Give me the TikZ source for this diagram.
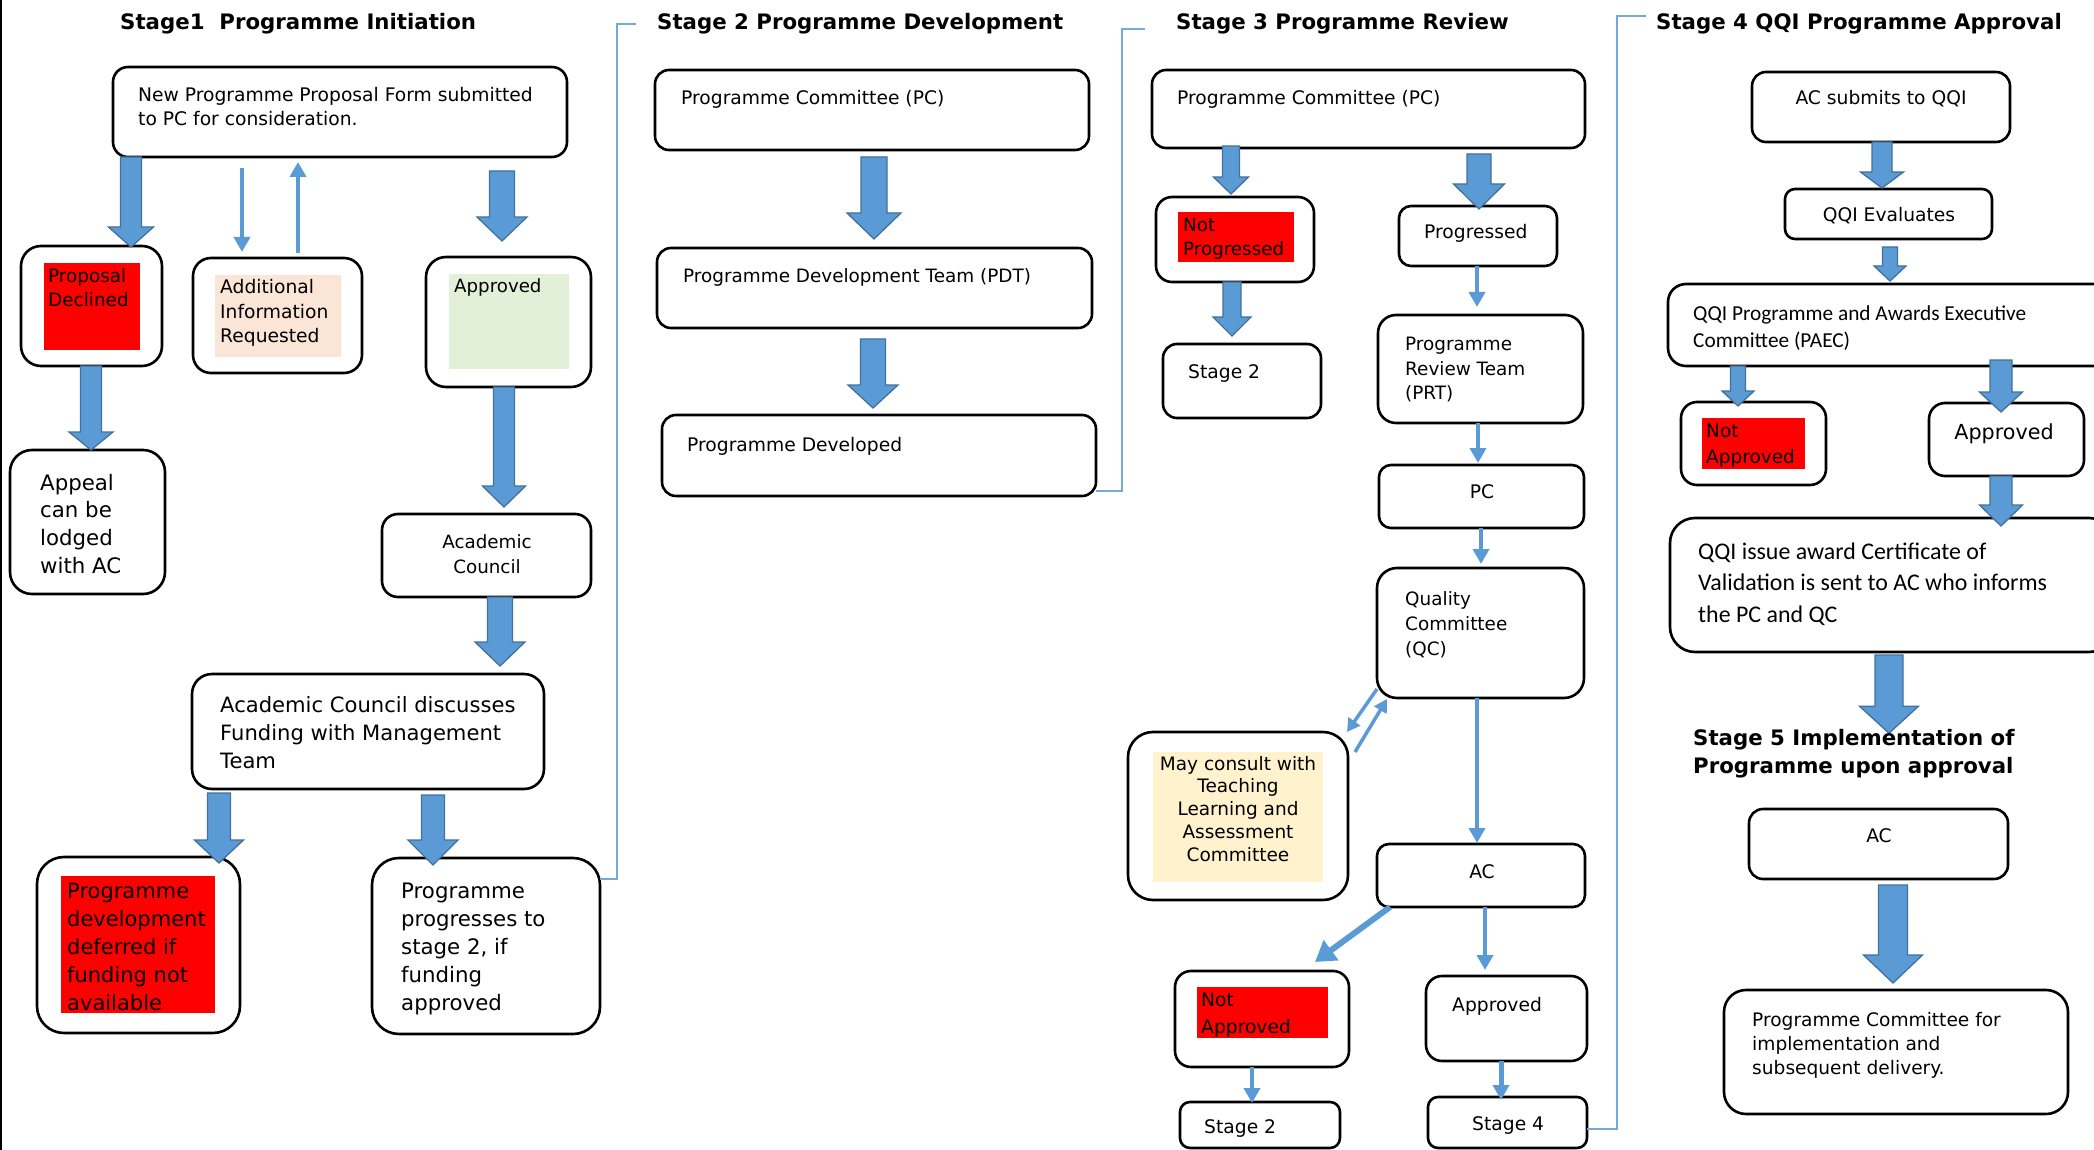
\documentclass[tikz,border=0pt]{standalone}
\usepackage{fontspec}
\setmainfont{DejaVu Sans}
\newfontfamily\calibri{Carlito}
\usetikzlibrary{arrows.meta,calc,fit}

\definecolor{flowblue}{HTML}{5B9BD5}
\definecolor{flowedge}{HTML}{41719C}
\definecolor{warnred}{HTML}{FF0000}
\definecolor{peach}{HTML}{FBE5D6}
\definecolor{palegreen}{HTML}{E2F0D9}
\definecolor{paleyellow}{HTML}{FFF2CC}

\newcommand\fsz[2]{\fontsize{#1}{#2}\selectfont}
\newcommand\tl[1]{\begin{tabular}[t]{@{}l@{}}#1\end{tabular}}
\newcommand\tc[1]{\begin{tabular}[t]{@{}c@{}}#1\end{tabular}}
\newcommand\titlefont{\bfseries\fsz{21.3}{28}}

\pgfdeclarelayer{back}
\pgfsetlayers{back,main}

\tikzset{
  box/.style={draw=black, line width=2.6pt, rounded corners=#1, inner sep=0pt, outer sep=0pt},
  box/.default=14pt,
  hl/.style={fill=#1, draw=none, inner sep=0pt, outer sep=0pt},
  txt/.style={inner sep=0pt, anchor=base west, font=\fsz{18.7}{24}},
  ctxt/.style={inner sep=0pt, anchor=base, font=\fsz{18.7}{24}},
  blockarrow/.style={fill=flowblue, draw=flowedge, line width=1.3pt, line join=miter},
  thinarrow/.style={draw=flowblue, line width=4pt, -{Triangle[width=16pt,length=15pt]}},
  stagebracket/.style={draw=flowblue!85!white, line width=2pt},
}

% block arrow: x, from node, start offset, to node, tip offset, shaft width, head width, head length
\newcommand\blockarrow[8]{%
  \draw[blockarrow] let \p1=($(#1,0 |- #2.south)+(0,#3)$), \p2=($(#1,0 |- #4.north)+(0,#5)$) in
    (\x1-#6pt/2,\y1) -- (\x1+#6pt/2,\y1) -- (\x1+#6pt/2,\y2+#8pt) -- (\x1+#7pt/2,\y2+#8pt)
    -- (\x1,\y2) -- (\x1-#7pt/2,\y2+#8pt) -- (\x1-#6pt/2,\y2+#8pt) -- cycle;}
% thin arrow: x, from node, start offset, to node, tip offset
\newcommand\thinlink[6][]{%
  \draw[thinarrow,#1] ($(#2,0 |- #3.south)+(0,#4)$) -- ($(#2,0 |- #5.north)+(0,#6)$);}

\begin{document}
\begin{tikzpicture}[x=1pt,y=-1pt]
\useasboundingbox (0,0) rectangle (2094,1150);
\begin{pgfonlayer}{back}
  \fill[white] (0,0) rectangle (2094,1150);
\end{pgfonlayer}
\draw[line width=2.5pt] (1.2,0) -- (1.2,1150);

% ---------------- Stage 1 ----------------
\node[txt] (t1) at (120,30) {\titlefont Stage1~~Programme Initiation};

\node[box=15pt, fit={(113,67)(567,157)}] (a1) {};
\node[txt] at (138,102) {\tl{New Programme Proposal Form submitted\\to PC for consideration.}};

\node[box=20pt, fit={(21,246)(162,366)}] (pd) {};
\node[hl=warnred, fit={(44,263)(140,350)}] (pdbg) {};
\node[txt] at (48,283) {\fsz{18.4}{24}\tl{Proposal\\Declined}};

\node[box=18pt, fit={(193,258)(362,373)}] (ai) {};
\node[hl=peach, fit={(215,275)(341,357)}] (aibg) {};
\node[txt] at (220,294) {\fsz{18.7}{24.5}\tl{Additional\\Information\\Requested}};

\node[box=20pt, fit={(426,257)(591,387)}] (ap1) {};
\node[hl=palegreen, fit={(449,274)(569,369)}] (ap1bg) {};
\node[txt] at (454,293) {\fsz{18.2}{24}Approved};

\node[box=22pt, fit={(10,450)(165,594)}] (appeal) {};
\node[txt] at (40,490) {\fsz{21.3}{27.7}\tl{Appeal\\can be\\lodged\\with AC}};

\node[box=16pt, fit={(382,514)(591,597)}] (acad) {};
\node[ctxt] at (487,548) {\fsz{18.3}{25}\tc{Academic\\Council}};

\node[box=20pt, fit={(192,674)(544,789)}] (disc) {};
\node[txt] at (220,712) {\fsz{21.1}{28}\tl{Academic Council discusses\\Funding with Management\\Team}};

\node[box=27pt, fit={(37,857)(240,1033)}] (defer) {};
\node[hl=warnred, fit={(61,876)(215,1013)}] (deferbg) {};
\node[txt] at (67,898) {\fsz{21}{28}\tl{Programme\\development\\deferred if\\funding not\\available}};

\node[box=27pt, fit={(372,858)(600,1034)}] (prog) {};
\node[txt] at (401,898) {\fsz{21.3}{28}\tl{Programme\\progresses to\\stage 2, if\\funding\\approved}};

\blockarrow{131}{a1}{0}{pd}{1}{21}{45}{20}
\thinlink{242}{a1}{11}{ai}{-6}
\draw[thinarrow] ($(298,0 |- ai.north)+(0,-5)$) -- ($(298,0 |- a1.south)+(0,5)$);
\blockarrow{502}{a1}{14}{ap1}{-16}{25}{50}{24}
\blockarrow{91}{pd}{0}{appeal}{0}{21}{44}{18}
\blockarrow{504}{ap1}{0}{acad}{-7}{21}{43}{21}
\blockarrow{500}{acad}{0}{disc}{-8}{25}{50}{24}
\blockarrow{219}{disc}{4}{defer}{6}{23}{49}{23}
\blockarrow{433}{disc}{6}{prog}{7}{23}{50}{25}

\draw[stagebracket] (prog.east |- 0,879) -| (617,24) -- (636,24);

% ---------------- Stage 2 ----------------
\node[txt] (t2) at (657,30) {\titlefont Stage 2 Programme Development};

\node[box=14pt, fit={(655,70)(1089,150)}] (s2pc) {};
\node[txt] at (681,105) {Programme Committee (PC)};
\node[box=14pt, fit={(657,248)(1092,328)}] (pdt) {};
\node[txt] at (683,283) {\fsz{18.4}{24}Programme Development Team (PDT)};
\node[box=14pt, fit={(662,415)(1096,496)}] (pdev) {};
\node[txt] at (687,451) {Programme Developed};

\blockarrow{874}{s2pc}{7}{pdt}{-9}{26}{54}{26}
\blockarrow{873}{pdt}{11}{pdev}{-7}{25}{50}{23}

\draw[stagebracket] (pdev.east |- 0,491) -| (1122,29) -- (1145,29);

% ---------------- Stage 3 ----------------
\node[txt] (t3) at (1176,30) {\titlefont Stage 3 Programme Review};

\node[box=14pt, fit={(1152,70)(1585,148)}] (s3pc) {};
\node[txt] at (1177,105) {Programme Committee (PC)};

\node[box=16pt, fit={(1156,197)(1314,282)}] (np) {};
\node[hl=warnred, fit={(1178,212)(1294,262)}] (npbg) {};
\node[txt] at (1183,232) {\fsz{18.3}{24}\tl{Not\\Progressed}};

\node[box=14pt, fit={(1163,344)(1321,418)}] (s3a) {};
\node[txt] at (1188,378) {Stage 2};

\node[box=12pt, fit={(1399,206)(1557,266)}] (progd) {};
\node[txt] at (1424,239) {Progressed};

\node[box=18pt, fit={(1378,315)(1583,423)}] (prt) {};
\node[txt] at (1405,351) {\fsz{18.4}{24.5}\tl{Programme\\Review Team\\(PRT)}};

\node[box=12pt, fit={(1379,465)(1584,528)}] (s3pc2) {};
\node[ctxt] at (1482,498) {PC};

\node[box=20pt, fit={(1377,568)(1584,698)}] (qc) {};
\node[txt] at (1405,605) {\fsz{18.4}{25}\tl{Quality\\Committee\\(QC)}};

\node[box=25pt, fit={(1128,732)(1348,900)}] (tla) {};
\node[hl=paleyellow, fit={(1153,752)(1323,882)}] (tlabg) {};
\node[ctxt] at (1238,770) {\fsz{18.5}{22.8}\tc{May consult with\\Teaching\\Learning and\\Assessment\\Committee}};

\node[box=12pt, fit={(1377,844)(1585,907)}] (ac3) {};
\node[ctxt] at (1482,878) {AC};

\node[box=16pt, fit={(1175,971)(1349,1067)}] (na3) {};
\node[hl=warnred, fit={(1197,987)(1328,1038)}] (na3bg) {};
\node[txt] at (1201,1006) {\fsz{18.7}{27}\tl{Not\\Approved}};

\node[box=10pt, fit={(1180,1102)(1340,1148)}] (s3b) {};
\node[txt] at (1204,1133) {Stage 2};

\node[box=16pt, fit={(1426,976)(1587,1061)}] (ap3) {};
\node[txt] at (1452,1011) {Approved};

\node[box=10pt, fit={(1428,1097)(1587,1148)}] (st4) {};
\node[txt] at (1472,1130) {Stage 4};

\blockarrow{1231}{s3pc}{-2}{np}{-3}{17}{35}{17}
\blockarrow{1479}{s3pc}{6}{progd}{3}{24}{51}{25}
\blockarrow{1232}{np}{0}{s3a}{-8}{18}{38}{19}
\thinlink{1477}{progd}{0}{prt}{-8}
\thinlink{1478}{prt}{0}{s3pc2}{-2}
\thinlink{1481}{s3pc2}{0}{qc}{-4}
\thinlink{1477}{qc}{0}{ac3}{-1}
\thinlink{1485}{ac3}{0}{ap3}{-6}
\thinlink{1252}{na3}{0}{s3b}{1}
\thinlink[line width=5pt]{1501}{ap3}{0}{st4}{3}
\draw[thinarrow, line width=3.5pt, -{Triangle[width=14pt,length=13pt]}]
  ($(qc.south west)+(0,-9)$) -- ($(tla.north east)+(-1,0)$);
\draw[thinarrow, line width=3.5pt, -{Triangle[width=14pt,length=13pt]}]
  ($(tla.north east)+(7,20)$) -- ($(qc.south west)+(10,1)$);
\draw[thinarrow, line width=6pt, -{Triangle[width=24pt,length=20pt]}]
  ($(ac3.south west)+(13,0)$) -- ($(na3.north east)+(-34,-9)$);

\draw[stagebracket] (st4.east |- 0,1129) -| (1617,16) -- (1646,16);

% ---------------- Stage 4 ----------------
\node[txt] (t4) at (1656,30) {\titlefont Stage 4 QQI Programme Approval};

\node[box=14pt, fit={(1752,72)(2010,142)}] (acs) {};
\node[ctxt] at (1881,105) {AC submits to QQI};

\node[box=10pt, fit={(1785,189)(1992,239)}] (qev) {};
\node[ctxt] at (1889,222) {QQI Evaluates};

\node[box=18pt, fit={(1668,284)(2112,366)}] (paec) {};
\node[txt] at (1693,321) {\calibri\fsz{21.3}{27}\tl{QQI Programme and Awards Executive\\Committee (PAEC)}};

\node[box=16pt, fit={(1681,402)(1826,485)}] (na4) {};
\node[hl=warnred, fit={(1702,418)(1805,469)}] (na4bg) {};
\node[txt] at (1706,437) {\fsz{18.5}{26}\tl{Not\\Approved}};

\node[box=16pt, fit={(1929,403)(2084,476)}] (ap4) {};
\node[ctxt] at (2004,439) {\fsz{20.7}{24}Approved};

\node[box=25pt, fit={(1670,518)(2114,652)}] (qqi) {};
\node[txt] at (1698,559) {\calibri\fsz{23.9}{31.5}\tl{QQI issue award Certificate of\\Validation is sent to AC who informs\\the PC and QC}};

\blockarrow{1882}{acs}{0}{qev}{-1}{20}{43}{16}
\blockarrow{1890}{qev}{8}{paec}{-3}{15}{32}{15}
\blockarrow{1738}{paec}{0}{na4}{4}{15}{32}{15}
\blockarrow{2001}{paec}{-6}{ap4}{9}{22}{43}{20}
\blockarrow{2001}{ap4}{0}{qqi}{8}{22}{43}{21}

% ---------------- Stage 5 ----------------
\node[txt] (s5) at (1693,745) {\titlefont\tl{Stage 5 Implementation of\\Programme upon approval}};
\begin{pgfonlayer}{back}
  \blockarrow{1889}{qqi}{3}{s5}{8}{28}{59}{27}
\end{pgfonlayer}

\node[box=14pt, fit={(1749,809)(2008,879)}] (ac5) {};
\node[ctxt] at (1879,842) {AC};

\node[box=22pt, fit={(1724,990)(2068,1114)}] (pcimpl) {};
\node[txt] at (1752,1026) {\fsz{18.6}{24}\tl{Programme Committee for\\implementation and\\subsequent delivery.}};

\blockarrow{1893}{ac5}{6}{pcimpl}{-7}{29}{59}{28}
\end{tikzpicture}
\end{document}
